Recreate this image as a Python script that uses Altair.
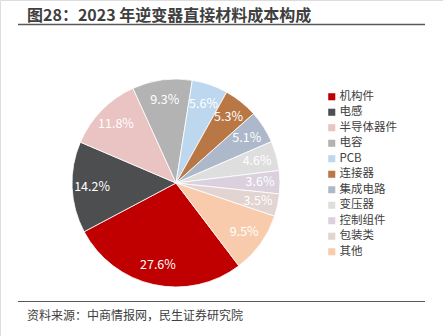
import altair as alt
import pandas as pd
import math

categories = ["机构件", "电感", "半导体器件", "电容", "PCB", "连接器", "集成电路", "变压器", "控制组件", "包装类", "其他"]
values = [27.6, 14.2, 11.8, 9.3, 5.6, 5.3, 5.1, 4.6, 3.6, 3.5, 9.5]
labels = ["27.6%", "14.2%", "11.8%", "9.3%", "5.6%", "5.3%", "5.1%", "4.6%", "3.6%", "3.5%", "9.5%"]
colors = ["#C00000", "#4D4E50", "#EAC3C3", "#B3B3B3", "#BDD7EE", "#B97745", "#ADB9CA", "#DEDEDE", "#DAD0DE", "#E2D4D0", "#F8CBAD"]

df = pd.DataFrame({"cat": categories, "val": values, "lab": labels, "ord": list(range(len(categories)))})

start = math.radians(142.8)
cx, cy = 176, 183

theta = alt.Theta("val:Q", stack=True, scale=alt.Scale(range=[start, start + 2 * math.pi]))
color = alt.Color("cat:N", sort=categories,
                  scale=alt.Scale(domain=categories, range=colors),
                  legend=alt.Legend(title=None, orient="none", legendX=326, legendY=91,
                                    symbolType="square", symbolSize=50, symbolStrokeWidth=0,
                                    labelFont="Noto Sans CJK SC", labelFontSize=11.5,
                                    labelColor="#404040", rowPadding=2.5, labelOffset=2,
                                    symbolOffset=0, padding=0))

base = alt.Chart(df).encode(theta=theta, order=alt.Order("ord:Q"))

pie = base.mark_arc(outerRadius=104, stroke="white", strokeWidth=0.8).encode(
    color=color, x=alt.value(cx), y=alt.value(cy))

text = base.mark_text(radius=84, font="Noto Sans CJK SC", fontSize=12.5, color="white").encode(
    text="lab:N", x=alt.value(cx), y=alt.value(cy))

title_df = pd.DataFrame({"t": ["图28：2023 年逆变器直接材料成本构成"]})
title = alt.Chart(title_df).mark_text(align="left", baseline="alphabetic", font="Noto Sans CJK SC",
                                      fontSize=16, fontWeight="bold", color="#3F3F3F").encode(
    text="t:N", x=alt.value(27), y=alt.value(21))

src_df = pd.DataFrame({"t": ["资料来源：中商情报网，民生证券研究院"]})
src = alt.Chart(src_df).mark_text(align="left", baseline="middle", font="Noto Sans CJK SC",
                                  fontSize=12, color="#404040").encode(
    text="t:N", x=alt.value(27), y=alt.value(316))

line1 = alt.Chart(title_df).mark_rule(color="#595959", strokeWidth=1.5).encode(
    x=alt.value(18), x2=alt.value(425), y=alt.value(24.5))
line2 = alt.Chart(title_df).mark_rule(color="#595959", strokeWidth=1.2).encode(
    x=alt.value(18), x2=alt.value(425), y=alt.value(301.5))

chart = alt.layer(pie, text, title, src, line1, line2).properties(
    width=443, height=336, padding=0, autosize=alt.AutoSizeParams(type="none")
).configure_view(stroke=None).configure(background="white")

chart.save("out.html", embed_options={"renderer": "svg", "actions": False})
